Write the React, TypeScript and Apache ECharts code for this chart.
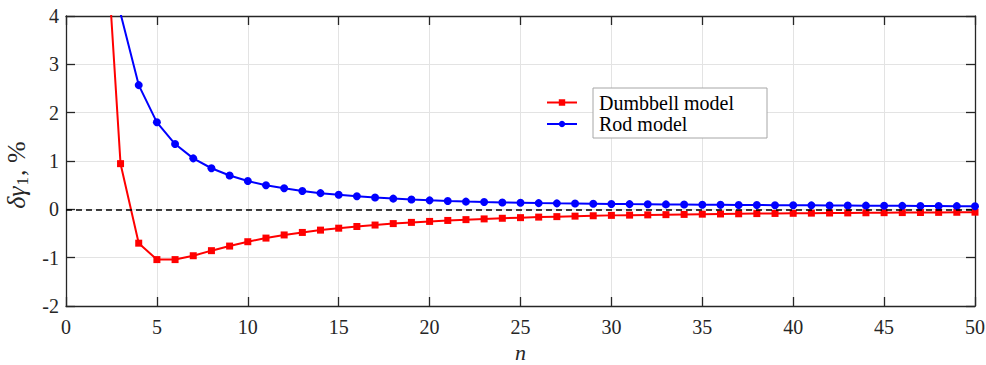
import React, { useEffect, useRef } from "react";
import * as echarts from "echarts";

const nValues = [2, 3, 4, 5, 6, 7, 8, 9, 10, 11, 12, 13, 14, 15, 16, 17, 18, 19, 20, 21, 22, 23, 24, 25, 26, 27, 28, 29, 30, 31, 32, 33, 34, 35, 36, 37, 38, 39, 40, 41, 42, 43, 44, 45, 46, 47, 48, 49, 50];

const dumbbell = [6.9, 0.945, -0.70, -1.04, -1.04, -0.96, -0.855, -0.76, -0.67, -0.595, -0.53, -0.478, -0.43, -0.39, -0.355, -0.325, -0.295, -0.27, -0.25, -0.23, -0.213, -0.198, -0.185, -0.172, -0.161, -0.151, -0.141, -0.133, -0.125, -0.12, -0.115, -0.11, -0.105, -0.10, -0.096, -0.092, -0.088, -0.085, -0.082, -0.079, -0.076, -0.074, -0.071, -0.069, -0.067, -0.065, -0.063, -0.061, -0.059];

const rod = [8, 4.05, 2.57, 1.80, 1.35, 1.055, 0.85, 0.70, 0.585, 0.50, 0.435, 0.38, 0.335, 0.30, 0.27, 0.245, 0.222, 0.203, 0.186, 0.172, 0.16, 0.15, 0.142, 0.135, 0.129, 0.124, 0.12, 0.116, 0.112, 0.108, 0.105, 0.102, 0.099, 0.096, 0.093, 0.09, 0.088, 0.086, 0.084, 0.082, 0.08, 0.078, 0.076, 0.074, 0.072, 0.07, 0.068, 0.066, 0.064];

const seriesNames = ["Dumbbell model", "Rod model"];
const xRange = { min: 0, max: 50, interval: 5 };
const yRange = { min: -2, max: 4, interval: 1 };

const FONT = "'Liberation Serif', serif";
const AX = "#262626";

export default function App() {
  const ref = useRef<HTMLDivElement>(null);
  useEffect(() => {
    if (!ref.current) return;
    const chart = echarts.init(ref.current, undefined, { renderer: "svg" });
    const axisLine = { show: true, onZero: false, lineStyle: { color: AX, width: 1.3 } };
    const tick = { show: true, inside: true, length: 9, lineStyle: { color: AX, width: 1.3 } };
    chart.setOption({
      animation: false,
      backgroundColor: "#ffffff",
      grid: { left: 66, right: 11, top: 16, bottom: 59, containLabel: false, outerBoundsMode: "none" },
      xAxis: [
        {
          type: "value",
          ...xRange,
          name: "n",
          nameLocation: "middle",
          nameGap: 35,
          nameTextStyle: { fontFamily: FONT, fontSize: 22, fontStyle: "italic", color: AX },
          axisLine,
          axisTick: tick,
          axisLabel: { fontFamily: FONT, fontSize: 20, color: AX, margin: 11 },
          splitLine: { show: true, lineStyle: { color: "#e3e3e3", width: 1 } },
        },
        {
          type: "value",
          position: "top",
          ...xRange,
          axisLine,
          axisTick: tick,
          axisLabel: { show: false },
          splitLine: { show: false },
        },
      ],
      yAxis: [
        {
          type: "value",
          ...yRange,
          name: "{i|δγ}{s|1}{n|, %}",
          nameLocation: "middle",
          nameGap: 32,
          nameRotate: 90,
          nameTextStyle: {
            color: AX,
            padding: [0, 28, 0, 0],
            rich: {
              i: { fontFamily: FONT, fontSize: 26, fontStyle: "italic", color: AX },
              s: { fontFamily: FONT, fontSize: 17, color: AX, verticalAlign: "bottom", padding: [12, 1, 0, 1] },
              n: { fontFamily: FONT, fontSize: 26, color: AX },
            },
          },
          axisLine,
          axisTick: tick,
          axisLabel: { fontFamily: FONT, fontSize: 20, color: AX, margin: 7 },
          splitLine: { show: true, lineStyle: { color: "#e3e3e3", width: 1 } },
        },
        {
          type: "value",
          position: "right",
          ...yRange,
          axisLine,
          axisTick: tick,
          axisLabel: { show: false },
          splitLine: { show: false },
        },
      ],
      legend: {
        orient: "vertical",
        left: 541,
        top: 87,
        itemWidth: 30,
        itemHeight: 8,
        itemGap: 0.5,
        data: seriesNames,
        textStyle: { fontFamily: FONT, fontSize: 20, color: "#000", lineHeight: 21, padding: [0, 0, 0, 17] },
      },
      graphic: [
        {
          type: "rect",
          z: 3,
          shape: { x: 593, y: 88, width: 174, height: 50 },
          style: { fill: "#ffffff", stroke: "#a6a6a6", lineWidth: 1 },
        },
      ],
      series: [
        {
          name: seriesNames[0],
          type: "line",
          data: nValues.map((n, i) => [n, dumbbell[i]]),
          symbol: "rect",
          symbolSize: 7,
          clip: true,
          lineStyle: { color: "#ff0000", width: 2 },
          itemStyle: { color: "#ff0000" },
          z: 2,
          markLine: {
            silent: true,
            symbol: "none",
            label: { show: false },
            lineStyle: { color: "#000", type: [6, 4], width: 1.5 },
            data: [{ yAxis: 0 }],
          },
        },
        {
          name: seriesNames[1],
          type: "line",
          data: nValues.map((n, i) => [n, rod[i]]),
          symbol: "circle",
          symbolSize: 8,
          clip: true,
          lineStyle: { color: "#0000ff", width: 2 },
          itemStyle: { color: "#0000ff" },
          z: 2,
        },
      ],
    });
    return () => chart.dispose();
  }, []);
  return <div ref={ref} style={{ width: 986, height: 365, position: "absolute", left: 0, top: 0 }} />;
}
